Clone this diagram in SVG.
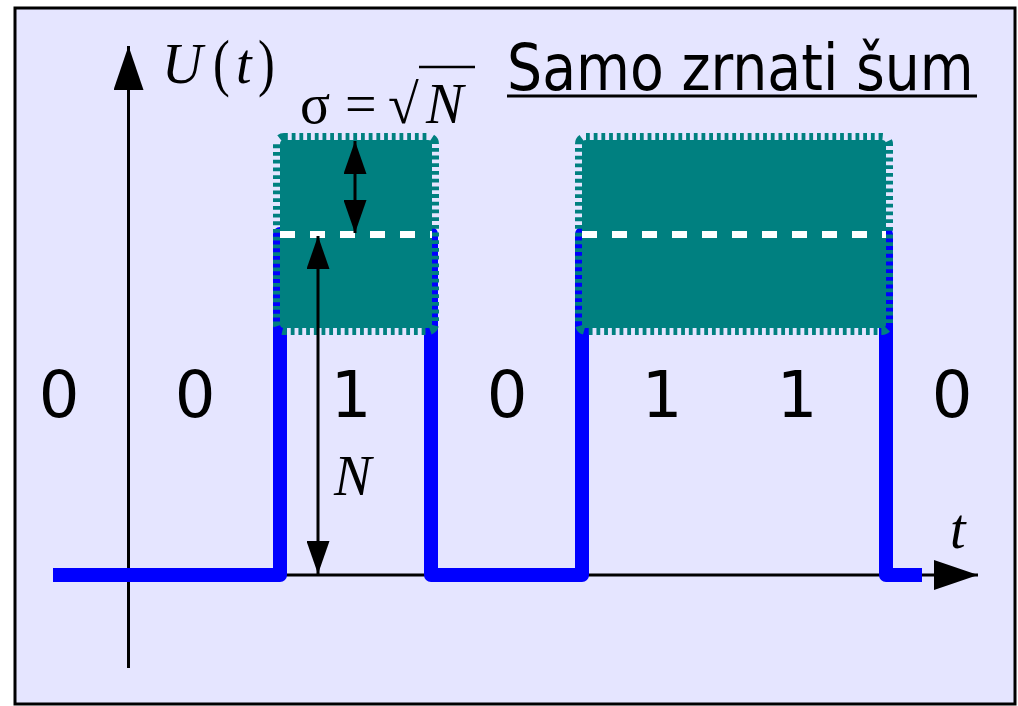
<svg xmlns="http://www.w3.org/2000/svg" width="1018" height="706" viewBox="0 0 1018 706">
<style>
.frame{fill:#E5E5FF;stroke:#000;stroke-width:3}
.axis{stroke:#000;stroke-width:3;fill:none}
.sig{stroke:#0000FF;stroke-width:14;fill:none;stroke-linejoin:round}
.band{fill:#008080;stroke:#008080;stroke-width:14;stroke-dasharray:3.8 3.9}
.mean{stroke:#FFFFFF;stroke-width:7;stroke-dasharray:15 15;fill:none}
.math{font-family:"Liberation Serif","Times New Roman",serif;font-size:56px;fill:#000}
.it{font-style:italic}
.bit{font-family:"DejaVu Sans",Verdana,sans-serif;font-size:64px;fill:#000;text-anchor:middle}
.title{font-family:"DejaVu Sans",Verdana,sans-serif;font-size:64px;fill:#000}
</style>
<defs>
<marker id="ah" markerUnits="userSpaceOnUse" markerWidth="44" markerHeight="30" refX="44" refY="15" orient="auto-start-reverse" viewBox="0 0 44 30">
<path d="M0,0 L44,15 L0,30 z" fill="#000"/>
</marker>
<marker id="sh" markerUnits="userSpaceOnUse" markerWidth="33" markerHeight="23" refX="33" refY="11.5" orient="auto-start-reverse" viewBox="0 0 33 23">
<path d="M0,0 L33,11.5 L0,23 z" fill="#000"/>
</marker>
</defs>
<rect id="frame" class="frame" x="15" y="8" width="1000" height="696"/>
<g id="axes">
<line class="axis" x1="128.5" y1="668" x2="128.5" y2="46" marker-end="url(#ah)"/>
<line class="axis" x1="128" y1="575" x2="978" y2="575" marker-end="url(#ah)"/>
</g>
<g id="signal">
<path class="sig" d="M53,575 H280 V234 H431 V575 H582 V234 H886 V575 H922"/>
</g>
<g id="pulse1">
<rect class="band" x="280" y="140" width="152" height="188" rx="4"/>
<line class="mean" x1="280" y1="234.5" x2="432" y2="234.5"/>
</g>
<g id="pulse2">
<rect class="band" x="582" y="140" width="304" height="188" rx="4"/>
<line class="mean" x1="582" y1="234.5" x2="886" y2="234.5"/>
</g>
<g id="connectors">
<line class="axis" x1="355" y1="141" x2="355" y2="233" marker-start="url(#sh)" marker-end="url(#sh)"/>
<line class="axis" x1="318" y1="236" x2="318" y2="574" marker-start="url(#sh)" marker-end="url(#sh)"/>
</g>
<g id="labels">
<text class="math it" x="162" y="83">U</text>
<text class="math" transform="translate(213,84) scale(0.9,1.15)" x="0" y="0" font-size="76">(</text>
<text class="math it" x="236" y="83">t</text>
<text class="math" transform="translate(258,84) scale(0.9,1.15)" x="0" y="0" font-size="76">)</text>
<text class="math" x="300" y="123">σ</text>
<text class="math" x="345" y="123">=</text>
<text class="math" x="388" y="123">√</text>
<line x1="419" y1="67" x2="475" y2="67" stroke="#000" stroke-width="2.5"/>
<text class="math it" x="426" y="123">N</text>
<text class="math it" x="334" y="495">N</text>
<text class="math it" x="950" y="548">t</text>
<text class="title" transform="translate(507,90) scale(0.865,1)" x="0" y="0">Samo zrnati šum</text>
<line x1="507" y1="96" x2="977" y2="96" stroke="#000" stroke-width="3"/>
<text class="bit" x="59" y="417">0</text>
<text class="bit" x="195" y="417">0</text>
<text class="bit" x="351" y="417">1</text>
<text class="bit" x="507" y="417">0</text>
<text class="bit" x="662" y="417">1</text>
<text class="bit" x="797" y="417">1</text>
<text class="bit" x="952" y="417">0</text>
</g>
</svg>
